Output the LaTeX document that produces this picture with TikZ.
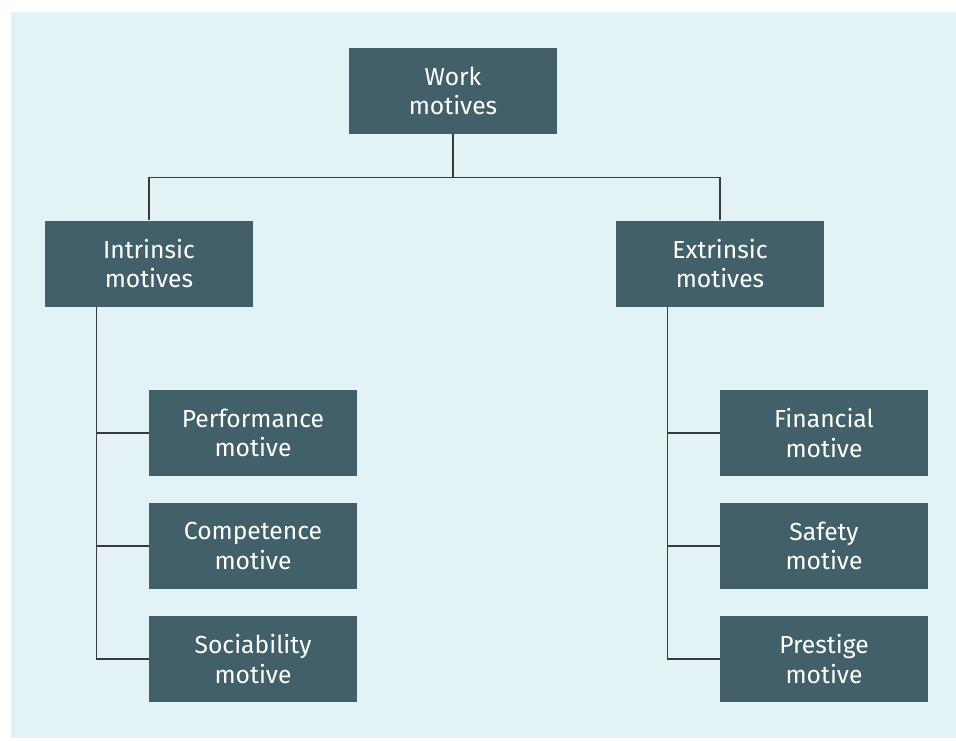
\documentclass[tikz,border=0pt]{standalone}
\usepackage{fontspec}
\setmainfont{Fira Sans}
\definecolor{bgblue}{HTML}{E3F2F4}
\definecolor{boxteal}{HTML}{426069}
\definecolor{linegray}{HTML}{3A3A3A}
\begin{document}
\begin{tikzpicture}[x=0.75pt,y=-0.75pt,
        motive/.style={rectangle,fill=boxteal,text=white,align=center,
            minimum width=156pt,minimum height=64.5pt,inner sep=0pt,
            font=\fontsize{18.5}{22}\selectfont},
        link/.style={draw=linegray,line width=0.8pt}]
\useasboundingbox (0,0) rectangle (956,740);
\fill[bgblue] (11,12) rectangle (956,738);

\node[motive] (work) at (453,91) {Work\\motives};
\node[motive] (intr) at (149,263.5) {Intrinsic\\motives};
\node[motive] (extr) at (720,263.5) {Extrinsic\\motives};

\node[motive] (perf) at (253,433) {Performance\\motive};
\node[motive] (comp) at (253,546) {Competence\\motive};
\node[motive] (soc)  at (253,659) {Sociability\\motive};

\node[motive] (fin)  at (824,433) {Financial\\motive};
\node[motive] (safe) at (824,546) {Safety\\motive};
\node[motive] (pres) at (824,659) {Prestige\\motive};

\draw[link] (work.south) -- ++(0,43) -| (intr.north);
\draw[link] (work.south) -- ++(0,43) -| (extr.north);

\coordinate (ibar) at ([xshift=39pt]intr.south west);
\coordinate (ebar) at ([xshift=39pt]extr.south west);
\foreach \c in {perf,comp,soc}
    \draw[link] (ibar) |- (\c.west);
\foreach \c in {fin,safe,pres}
    \draw[link] (ebar) |- (\c.west);

\end{tikzpicture}
\end{document}
